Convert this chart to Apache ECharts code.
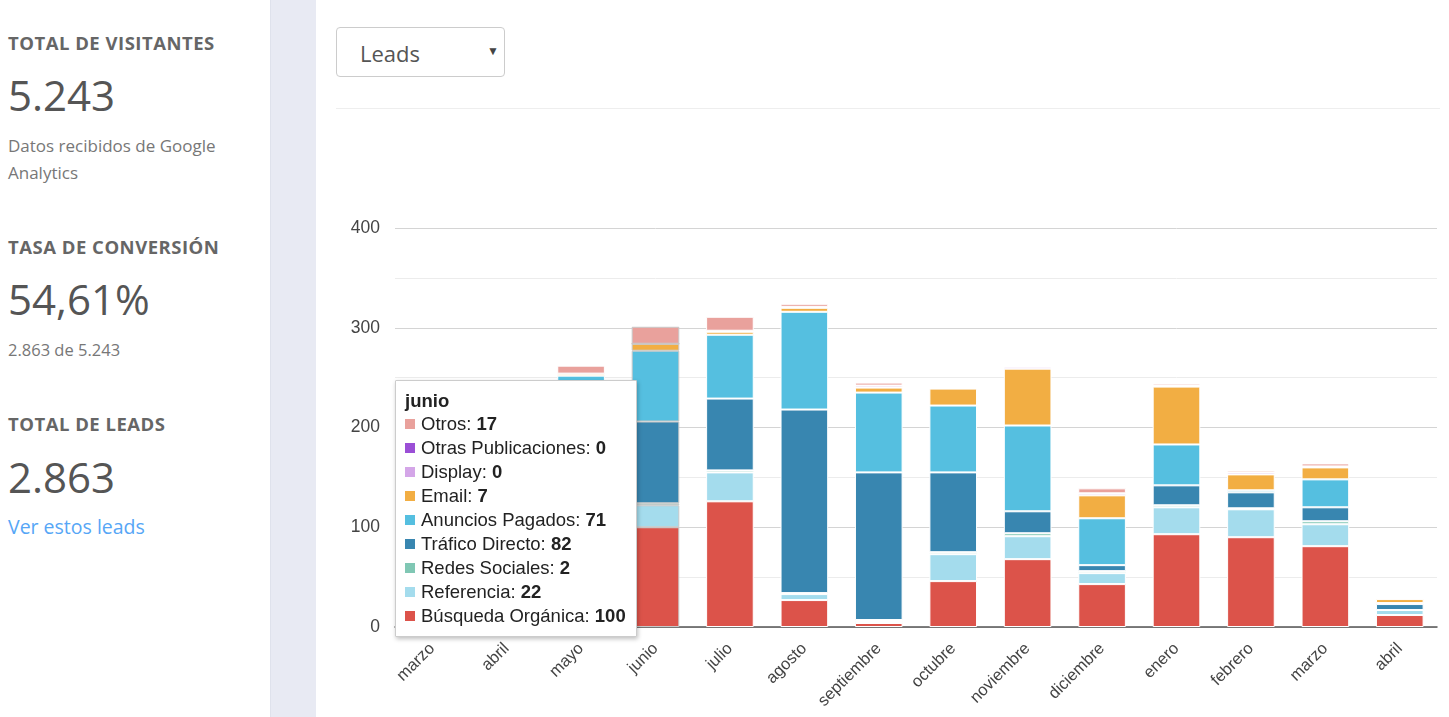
<!DOCTYPE html>
<html><head><meta charset="utf-8">
<script src="https://cdn.jsdelivr.net/npm/echarts@6/dist/echarts.min.js"></script>
<style>
html,body{margin:0;padding:0;background:#fff;width:1449px;height:717px;overflow:hidden;font-family:"Open Sans",sans-serif;}
#side{position:absolute;left:8px;top:0;width:260px;}
.h{position:absolute;left:0;font-weight:700;font-size:18.5px;color:#666;white-space:nowrap;letter-spacing:0.5px}
.big{position:absolute;left:0;font-size:42px;color:#555;white-space:nowrap;}
.sub{position:absolute;left:0;font-size:17px;color:#777;line-height:27px;width:235px;}
#band{position:absolute;left:270px;top:0;width:45px;height:717px;background:#e8eaf3;border-left:1px solid #dfe2ec;}
#sel{position:absolute;left:336px;top:27px;width:169px;height:50px;border:1px solid #ccc;border-radius:4px;box-sizing:border-box;}
#sel span{position:absolute;left:23px;top:10px;font-size:22px;color:#555;}
#sel i{position:absolute;left:150px;top:14px;font-style:normal;font-size:12px;color:#444;}
#hr{position:absolute;left:336px;top:108px;width:1104px;height:1px;background:#eee;}
#chart{position:absolute;left:0;top:0;width:1449px;height:717px;}
</style></head>
<body>
<div id="side">
 <div class="h" style="top:30px">TOTAL DE VISITANTES</div>
 <div class="big" style="top:66px">5.243</div>
 <div class="sub" style="top:132px">Datos recibidos de Google Analytics</div>
 <div class="h" style="top:234px">TASA DE CONVERSIÓN</div>
 <div class="big" style="top:270px">54,61%</div>
 <div class="sub" style="top:336px;font-size:16.5px">2.863 de 5.243</div>
 <div class="h" style="top:411px">TOTAL DE LEADS</div>
 <div class="big" style="top:448px">2.863</div>
 <div class="sub" style="top:513px;font-size:19.5px;color:#56a6f6">Ver estos leads</div>
</div>
<div id="band"></div>
<div id="sel"><span>Leads</span><i>▼</i></div>
<div id="hr"></div>
<div id="chart"></div>
<script>
const months = ["marzo","abril","mayo","junio","julio","agosto","septiembre","octubre","noviembre","diciembre","enero","febrero","marzo","abril"];
const busqueda      = [35,45,110,100,126,27,4,46,68,43,93,90,81,12];
const referencia    = [10,14,25,22,29,6,2,27,23,11,27,28,22,5];
const redes         = [1,1,2,2,2,1,1,2,3,2,2,1,3,0];
const trafico       = [15,20,60,82,72,184,148,80,22,6,20,16,14,6];
const anuncios      = [12,18,55,71,64,98,80,67,86,47,41,2,28,1];
const email         = [3,4,2,7,3,4,5,17,57,23,58,16,12,4];
const display       = [0,0,0,0,1,1,2,1,2,2,1,2,1,1];
const otrasPub      = [0,0,0,0,0,0,0,0,0,0,0,0,0,0];
const otros         = [2,3,8,17,14,3,3,1,1,5,2,2,3,1];
const yTicks = [0,100,200,300,400];

const seriesDefs = [
 {name:"Búsqueda Orgánica", data:busqueda, color:"#dc534a"},
 {name:"Referencia", data:referencia, color:"#a4dced"},
 {name:"Redes Sociales", data:redes, color:"#80c7b4"},
 {name:"Tráfico Directo", data:trafico, color:"#3886b0"},
 {name:"Anuncios Pagados", data:anuncios, color:"#55bfe0"},
 {name:"Email", data:email, color:"#f2ae43"},
 {name:"Display", data:display, color:"#d4a6e8"},
 {name:"Otras Publicaciones", data:otrasPub, color:"#9b4fd6"},
 {name:"Otros", data:otros, color:"#e9a19c"}
];
const hoverIndex = 3;

const chart = echarts.init(document.getElementById('chart'));
chart.setOption({
 animation:false,
 backgroundColor:'transparent',
 grid:{left:395,right:12,top:228,bottom:90},
 tooltip:{
  trigger:'axis', triggerOn:'none', alwaysShowContent:true, transitionDuration:0,
  axisPointer:{type:'none'},
  position:[395,380],
  padding:[9,10,8,9],
  borderColor:'#ccc', borderWidth:1, borderRadius:1,
  extraCssText:'box-shadow:1px 2px 4px rgba(0,0,0,0.25);',
  textStyle:{fontFamily:'"Liberation Sans",Arial,sans-serif',fontSize:18.5,color:'#222'},
  formatter:function(p){
   const i = p[0].dataIndex;
   let s = '<div style="font-weight:bold;line-height:22px">'+months[i]+'</div>';
   for (let k=seriesDefs.length-1;k>=0;k--){
    const d = seriesDefs[k];
    s += '<div style="line-height:24px;white-space:nowrap"><span style="display:inline-block;width:10px;height:10px;background:'+d.color+';margin-right:6px;vertical-align:1px"></span>'+d.name+': <b>'+d.data[i]+'</b></div>';
   }
   return s;
  }
 },
 xAxis:{type:'category',data:months,
  axisLine:{lineStyle:{color:'#555',width:1.5}},axisTick:{show:false},
  axisLabel:{rotate:45,interval:0,fontSize:16.5,color:'#444',fontFamily:'"Liberation Sans",Arial,sans-serif',margin:19}},
 yAxis:{type:'value',min:yTicks[0],max:yTicks[yTicks.length-1],interval:100,
  axisLine:{show:false},axisTick:{show:false},
  axisLabel:{fontSize:17.5,color:'#444',fontFamily:'"Liberation Sans",Arial,sans-serif',margin:15},
  splitLine:{lineStyle:{color:'#d4d4d4'}},
  minorTick:{show:false,splitNumber:2},
  minorSplitLine:{show:true,lineStyle:{color:'#ececec'}}},
 series: seriesDefs.map(d=>({
  name:d.name,type:'bar',stack:'t',barCategoryGap:'36%',
  emphasis:{disabled:true},
  data:d.data.map((v,i)=> i===hoverIndex ? {value:v,itemStyle:{borderColor:'#c8c8c8'}} : v),
  itemStyle:{color:d.color,borderColor:'#fff',borderWidth:1}
 }))
});
chart.dispatchAction({type:'showTip',seriesIndex:0,dataIndex:hoverIndex});
</script>
</body></html>
